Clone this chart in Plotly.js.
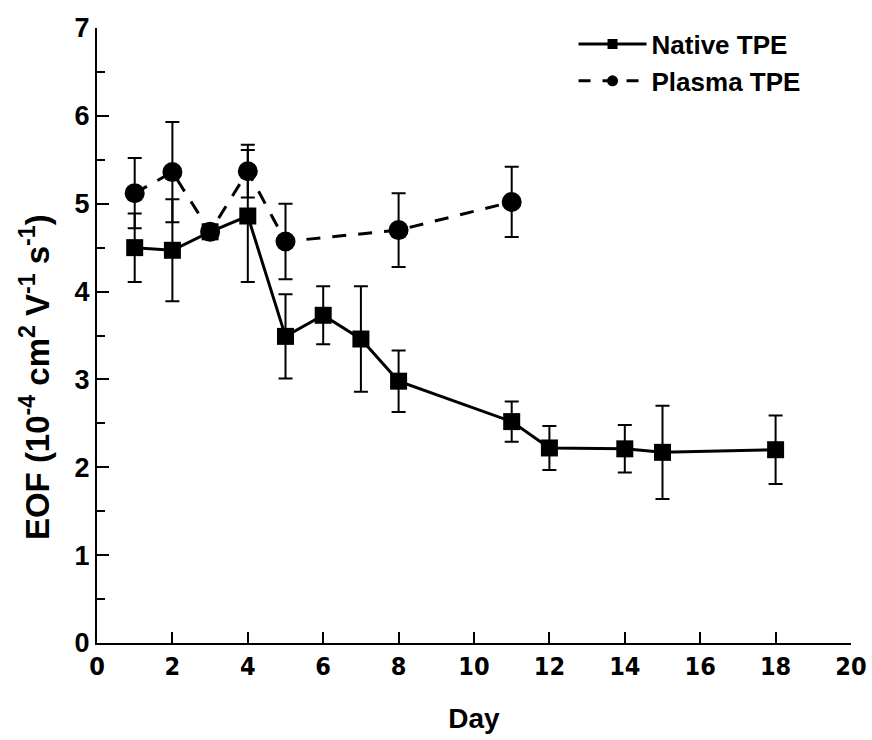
<!DOCTYPE html>
<html>
<head>
<meta charset="utf-8">
<script src="https://cdn.plot.ly/plotly-3.0.1.min.js"></script>
<style>
  html, body { margin: 0; padding: 0; background: #fff; }
  #chart { width: 872px; height: 740px; }
</style>
</head>
<body>
<div id="chart"></div>
<script>
// EOF over time for native and plasma-treated TPE
const nativeDays = [1, 2, 3, 4, 5, 6, 7, 8, 11, 12, 14, 15, 18];
const nativeEOF  = [4.50, 4.47, 4.68, 4.86, 3.49, 3.73, 3.46, 2.98, 2.52, 2.22, 2.21, 2.17, 2.20];
const nativeErr  = [0.39, 0.58, 0.08, 0.75, 0.48, 0.33, 0.60, 0.35, 0.23, 0.25, 0.27, 0.53, 0.39];

const plasmaDays = [1, 2, 3, 4, 5, 8, 11];
const plasmaEOF  = [5.12, 5.36, 4.68, 5.37, 4.57, 4.70, 5.02];
const plasmaErr  = [0.40, 0.57, 0.08, 0.30, 0.43, 0.42, 0.40];

const xTicks = [0, 2, 4, 6, 8, 10, 12, 14, 16, 18, 20];
const yTicks = [0, 1, 2, 3, 4, 5, 6, 7];
const yMinorTicks = [0.5, 1.5, 2.5, 3.5, 4.5, 5.5, 6.5];

const yTitle = 'EOF (10<sup>-4</sup> cm<sup>2</sup> V<sup>-1</sup> s<sup>-1</sup>)';

const font = 'Liberation Sans, Arial, sans-serif';
const narrow = 'Liberation Sans Narrow, DejaVu Sans Condensed, Liberation Sans, sans-serif';

const errStyle = { type: 'data', visible: true, color: '#000', thickness: 2, width: 7 };

const traces = [
  {
    x: nativeDays, y: nativeEOF, name: 'Native TPE', showlegend: false,
    type: 'scatter', mode: 'lines+markers',
    line: { color: '#000', width: 3 },
    marker: { symbol: 'square', size: 17, color: '#000' },
    error_y: Object.assign({ array: nativeErr }, errStyle)
  },
  {
    x: plasmaDays, y: plasmaEOF, name: 'Plasma TPE', showlegend: false,
    type: 'scatter', mode: 'lines+markers',
    line: { color: '#000', width: 3, dash: '14px,12px' },
    marker: { symbol: 'circle', size: 20, color: '#000' },
    error_y: Object.assign({ array: plasmaErr }, errStyle)
  },
  // legend keys with smaller symbols (placed on the minor-tick axis)
  {
    x: [null], y: [null], yaxis: 'y2', name: 'Native TPE', type: 'scatter', mode: 'lines+markers',
    line: { color: '#000', width: 3 },
    marker: { symbol: 'square', size: 10, color: '#000' }
  },
  {
    x: [null], y: [null], yaxis: 'y2', name: 'Plasma TPE', type: 'scatter', mode: 'lines+markers',
    line: { color: '#000', width: 3, dash: '12px,12px' },
    marker: { symbol: 'circle', size: 11, color: '#000' }
  }
];

const layout = {
  width: 872, height: 740,
  margin: { l: 97, r: 21, t: 28, b: 97 },
  paper_bgcolor: '#fff', plot_bgcolor: '#fff',
  font: { family: font, color: '#000', size: 24, weight: 700 },
  showlegend: true,
  legend: {
    x: 0.632, y: 1.012, xanchor: 'left', yanchor: 'top',
    bgcolor: 'rgba(0,0,0,0)',
    itemwidth: 68,
    font: { family: font, size: 26, color: '#000', weight: 700 },
    tracegroupgap: 0
  },
  xaxis: {
    range: [0, 20], tickvals: xTicks, ticktext: xTicks.map(String),
    ticks: 'inside', ticklen: 11, tickwidth: 2, tickcolor: '#000',
    showline: true, linecolor: '#000', linewidth: 2,
    showgrid: false, zeroline: false, mirror: false,
    tickfont: { family: narrow, size: 25, color: '#000', weight: 700 },
    title: { text: 'Day', font: { family: font, size: 28, color: '#000', weight: 700 }, standoff: 28 }
  },
  yaxis: {
    range: [0, 7], tickvals: yTicks, ticktext: yTicks.map(String),
    ticks: 'inside', ticklen: 12, tickwidth: 2, tickcolor: '#000',
    showline: true, linecolor: '#000', linewidth: 2,
    showgrid: false, zeroline: false, mirror: false,
    tickfont: { family: font, size: 27, color: '#000', weight: 700 }
  },
  yaxis2: {
    overlaying: 'y', side: 'left', anchor: 'x',
    range: [0, 7], tickvals: yMinorTicks,
    ticks: 'inside', ticklen: 8, tickwidth: 2, tickcolor: '#000',
    showticklabels: false, showline: false, showgrid: false, zeroline: false
  },
  annotations: [{
    text: yTitle, textangle: -90, showarrow: false,
    xref: 'paper', yref: 'paper', x: -0.083, y: 0.433,
    xanchor: 'center', yanchor: 'middle',
    font: { family: font, size: 33, color: '#000', weight: 700 }
  }]
};

Plotly.newPlot('chart', traces, layout, { displayModeBar: false, staticPlot: true });
</script>
</body>
</html>
